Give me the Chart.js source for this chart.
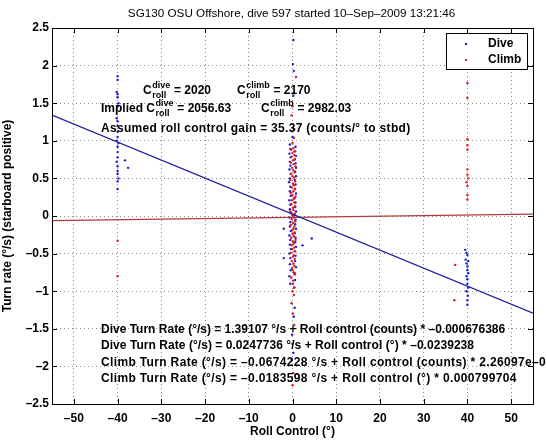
<!DOCTYPE html>
<html>
<head>
<meta charset="utf-8">
<script src="https://cdn.jsdelivr.net/npm/chart.js@4.4.1/dist/chart.umd.min.js"></script>
<style>
  html, body { margin: 0; padding: 0; background: #fff; }
  #wrap { width: 546px; height: 442px; }
</style>
</head>
<body>
<div id="wrap"><canvas id="turnChart" width="546" height="442"></canvas></div>
<script>
// values
const fitX = [-55, 55];
const diveFit = [1.341, -1.291];
const climbFit = [-0.062, 0.026];

const xTicks = [-50, -40, -30, -20, -10, 0, 10, 20, 30, 40, 50];
const yTicks = [-2.5, -2, -1.5, -1, -0.5, 0, 0.5, 1, 1.5, 2, 2.5];

const diveRoll = [
  -40, -40, -40.2, -40, -40, -39.8, -40, -40.2, -40, -40, -40, -40.2, -39.8, -40, -40, -40.2, -40, -40, -40, -39.8, -40, -40, -38.3, -37.6, -40, -40,
  39.5, 39.8, 40, 40.2, 39.8, 40, 40, 40.2, 39.8, 40, 40, 40.2, 39.8, 40, 40, 39.6, 40.1,
  0.2, 0.1, 0.3, 0.2, 0.4, 0.0,
  -0.6, 0.7, -0.5, 0.6, -0.7, 0.8, -0.4, 0.5, -0.6, 0.7, -0.5, 0.8, -0.7, 0.6, -0.4, 0.8,
  -0.6, 0.5, -0.8, 0.7, -0.5, 0.6, -0.6, 0.8, -0.4, 0.5, -0.7, 0.7, -0.5, 0.6, -0.6, 0.8,
  -0.4, 0.5, -0.7, 0.7, -0.5, 0.6, -0.6, 0.8, -0.4, 0.5, -0.7, 0.7, -0.5, 0.6, -0.6, 0.8,
  -0.4, 0.5, -0.7, 0.7, -0.5, 0.6, -0.6, 0.8, -0.4, 0.5, -0.7, 0.6, -0.5, 0.4,
  0.5, 0.3, -0.1, 0.2, -0.2,
  -2.0, 4.4, 2.3, -2.0
];
const diveTurn = [
  1.86, 1.81, 1.65, 1.62, 1.58, 1.50, 1.46, 1.30, 1.26, 1.20, 1.05, 1.00, 0.97, 0.92, 0.78, 0.72, 0.66, 0.60, 0.56, 0.50, 0.46, 0.36, 0.74, 0.64, 1.12, 0.85,
  -0.45, -0.49, -0.52, -0.60, -0.63, -0.67, -0.72, -0.76, -0.80, -0.84, -0.90, -0.95, -1.00, -1.12, -1.18, -0.58, -1.06,
  2.34, 2.02, 1.93, 1.60, 1.15, 1.05,
  0.95, 0.92, 0.89, 0.86, 0.83, 0.80, 0.78, 0.75, 0.72, 0.70, 0.67, 0.64, 0.62, 0.59, 0.56, 0.53,
  0.50, 0.48, 0.45, 0.42, 0.39, 0.36, 0.33, 0.30, 0.27, 0.24, 0.21, 0.18, 0.15, 0.12, 0.09, 0.06,
  0.04, 0.01, -0.02, -0.05, -0.08, -0.11, -0.14, -0.17, -0.20, -0.23, -0.26, -0.29, -0.32, -0.35, -0.38, -0.41,
  -0.44, -0.47, -0.50, -0.53, -0.56, -0.60, -0.64, -0.68, -0.72, -0.76, -0.80, -0.85, -0.90, -0.95,
  -1.22, -1.34, -1.58, -1.82, -1.91,
  -0.17, -0.30, -0.39, -0.56
];

const climbRoll = [
  40, 40, 40, 40, 40, 40.2, 39.8, 40, 40, 40, 37.2, 37.0, 40, 40,
  -40, -40,
  0.8, 0.2, 0.0, -0.2, 0.1, 0.3, 0.0,
  0.2, -0.3, 0.5, 0.0, 0.4, -0.2, 0.6, 0.1, -0.4, 0.3, 0.7, -0.1, 0.2, 0.5, -0.3, 0.0, 0.4, -0.5, 0.6, 0.1, 0.3, -0.2, 0.5, 0.2, -0.4, 0.0, 0.7,
  0.3, -0.1, 0.4, -0.3, 0.6, 0.1, 0.2, -0.5, 0.5, 0.0, 0.3, -0.2, 0.6, 0.1, -0.4, 0.4, 0.2, -0.1, 0.5, 0.0, 0.3, -0.3, 0.7, 0.1, 0.2, -0.2,
  0.4, 0.0, 0.6, -0.4, 0.3, 0.1, 0.5, -0.2, 0.2, 0.4, -0.1, 0.0, 0.3, 0.5, -0.3, 0.2, 0.1, 0.4,
  0.0, 0.3, -0.2, 0.1, 0.4, -0.1, 0.2, 0.0, 0.3
];
const climbTurn = [
  1.77, 1.57, 0.94, 0.88, 0.55, 0.50, 0.45, 0.40, 0.28, 0.22, -0.65, -1.12, 1.02, 0.62,
  -0.33, -0.80,
  1.85, 1.63, 1.46, 1.34, 1.17, 1.04, 0.97,
  0.90, 0.88, 0.86, 0.84, 0.81, 0.79, 0.76, 0.74, 0.71, 0.69, 0.66, 0.64, 0.61, 0.58, 0.56, 0.53, 0.51, 0.48, 0.46, 0.43, 0.41, 0.38, 0.36, 0.33, 0.31, 0.28,
  0.26, 0.23, 0.21, 0.18, 0.16, 0.13, 0.11, 0.08, 0.06, 0.03, 0.01, -0.02, -0.04, -0.07, -0.09, -0.12, -0.14, -0.17, -0.19, -0.22, -0.24, -0.27, -0.29, -0.32, -0.34, -0.37,
  -0.39, -0.42, -0.44, -0.47, -0.49, -0.52, -0.54, -0.57, -0.60, -0.63, -0.66, -0.69, -0.72, -0.75, -0.78, -0.82, -0.86, -0.90,
  -0.95, -1.00, -1.05, -1.16, -1.30, -1.45, -1.70, -2.09, -2.25
];

const titleText = 'SG130 OSU Offshore, dive 597 started 10\u2013Sep\u20132009 13:21:46';
const fitLines = [
  'Dive Turn Rate (\u00b0/s) = 1.39107 \u00b0/s + Roll control (counts) * \u20130.000676386',
  'Dive Turn Rate (\u00b0/s) = 0.0247736 \u00b0/s + Roll control (\u00b0) * \u20130.0239238',
  'Climb Turn Rate (\u00b0/s) = \u20130.0674228 \u00b0/s + Roll control (counts) * 2.26097e\u201305',
  'Climb Turn Rate (\u00b0/s) = \u20130.0183598 \u00b0/s + Roll control (\u00b0) * 0.000799704'
];
// extra spacing so the climb lines run as long as in the figure
const fitSpacing = ['0px', '0.05px', '0.35px', '0.35px'];

const FONT = '"Liberation Sans", Arial, sans-serif';
const BLUE = '#1a1ad8';
const RED = '#e01818';

function pts(xs, ys) {
  return xs.map((x, i) => ({ x: x, y: ys[i] }));
}

function minus(v) {
  return String(v).replace('-', '\u2013');
}

// C with stacked superscript / subscript
function drawC(ctx, x, base, sup, rest) {
  ctx.font = 'bold 12px ' + FONT;
  ctx.fillText('C', x, base);
  const w = ctx.measureText('C').width;
  ctx.font = 'bold 9px ' + FONT;
  ctx.fillText(sup, x + w + 0.5, base - 6);
  ctx.fillText('roll', x + w + 0.5, base + 4);
  const ws = Math.max(ctx.measureText(sup).width, ctx.measureText('roll').width);
  ctx.font = 'bold 12px ' + FONT;
  ctx.fillText(rest, x + w + ws + 1, base);
}

const decor = {
  id: 'decor',
  afterDraw(chart) {
    const ctx = chart.ctx;
    const a = chart.chartArea;
    const xs = chart.scales.x, ys = chart.scales.y;
    ctx.save();
    // box and inward ticks
    ctx.strokeStyle = '#000';
    ctx.lineWidth = 1;
    ctx.strokeRect(a.left + 0.5, a.top + 0.5, a.right - a.left, a.bottom - a.top);
    ctx.beginPath();
    xs.ticks.forEach(t => {
      const px = Math.round(xs.getPixelForValue(t.value)) + 0.5;
      ctx.moveTo(px, a.bottom); ctx.lineTo(px, a.bottom - 5);
      ctx.moveTo(px, a.top); ctx.lineTo(px, a.top + 5);
    });
    ys.ticks.forEach(t => {
      const py = Math.round(ys.getPixelForValue(t.value)) + 0.5;
      ctx.moveTo(a.left, py); ctx.lineTo(a.left + 5, py);
      ctx.moveTo(a.right, py); ctx.lineTo(a.right - 5, py);
    });
    ctx.stroke();

    // title
    ctx.fillStyle = '#000';
    ctx.textAlign = 'center';
    ctx.textBaseline = 'middle';
    ctx.font = '11.7px ' + FONT;
    ctx.fillText(titleText, (a.left + a.right) / 2 - 1, 14);

    // legend
    const lx = 446, ly = 33, lw = 81, lh = 36;
    ctx.fillStyle = '#fff';
    ctx.fillRect(lx, ly, lw, lh);
    ctx.strokeStyle = '#000';
    ctx.strokeRect(lx + 0.5, ly + 0.5, lw, lh);
    ctx.font = 'bold 12px ' + FONT;
    ctx.textAlign = 'left';
    ctx.fillStyle = '#000';
    ctx.fillText('Dive', 488, ly + 11);
    ctx.fillText('Climb', 488, ly + 27);
    ctx.fillStyle = BLUE;
    ctx.fillRect(465, ly + 10, 2, 2);
    ctx.fillStyle = RED;
    ctx.fillRect(465, ly + 26, 2, 2);

    // annotation text
    ctx.fillStyle = '#000';
    ctx.textAlign = 'left';
    ctx.textBaseline = 'alphabetic';
    drawC(ctx, 143, 94, 'dive', ' = 2020');
    drawC(ctx, 237, 94, 'climb', ' = 2170');
    ctx.font = 'bold 12px ' + FONT;
    ctx.fillText('Implied', 101, 112);
    drawC(ctx, 101 + ctx.measureText('Implied ').width, 112, 'dive', ' = 2056.63');
    drawC(ctx, 261, 112, 'climb', ' = 2982.03');
    ctx.font = 'bold 12px ' + FONT;
    ctx.letterSpacing = '0.3px';
    ctx.fillText('Assumed roll control gain = 35.37 (counts/\u00b0 to stbd)', 101, 132);
    fitLines.forEach((s, i) => {
      ctx.letterSpacing = fitSpacing[i];
      ctx.fillText(s, 101, 333 + i * 16.3);
    });
    ctx.letterSpacing = '0px';
    ctx.restore();
  }
};

new Chart(document.getElementById('turnChart'), {
  type: 'scatter',
  data: {
    datasets: [
      {
        label: 'Dive fit', type: 'line', data: pts(fitX, diveFit),
        borderColor: '#1c1c9c', borderWidth: 1.2, pointRadius: 0, fill: false, order: 0
      },
      {
        label: 'Climb fit', type: 'line', data: pts(fitX, climbFit),
        borderColor: '#b23a3a', borderWidth: 1.2, pointRadius: 0, fill: false, order: 0
      },
      {
        label: 'Climb', data: pts(climbRoll, climbTurn),
        backgroundColor: RED, borderWidth: 0, pointRadius: 1.2, order: 1
      },
      {
        label: 'Dive', data: pts(diveRoll, diveTurn),
        backgroundColor: BLUE, borderWidth: 0, pointRadius: 1.2, order: 2
      }
    ]
  },
  options: {
    responsive: false,
    animation: false,
    layout: { padding: { top: 28, right: 13, left: 0, bottom: 0 } },
    plugins: {
      legend: { display: false },
      tooltip: { enabled: false }
    },
    scales: {
      x: {
        type: 'linear', min: -55, max: 55,
        afterFit(s) { s.height = 38; },
        afterBuildTicks(s) { s.ticks = xTicks.map(v => ({ value: v })); },
        ticks: {
          padding: 7, maxRotation: 0, autoSkip: false,
          color: '#000', font: { family: FONT, size: 12, weight: 'bold' },
          callback: v => minus(v)
        },
        grid: { color: 'rgba(0,0,0,0.45)', drawTicks: false, lineWidth: 1 },
        border: { display: false, dash: [1, 3] },
        title: {
          display: true, text: 'Roll Control (\u00b0)', color: '#000',
          font: { family: FONT, size: 12, weight: 'bold' }, padding: { top: 0, bottom: 3 }
        }
      },
      y: {
        type: 'linear', min: -2.5, max: 2.5,
        afterFit(s) { s.width = 52; },
        afterBuildTicks(s) { s.ticks = yTicks.map(v => ({ value: v })); },
        ticks: {
          padding: 3, autoSkip: false,
          color: '#000', font: { family: FONT, size: 12, weight: 'bold' },
          callback: v => minus(v)
        },
        grid: { color: 'rgba(0,0,0,0.45)', drawTicks: false, lineWidth: 1 },
        border: { display: false, dash: [1, 3] },
        title: {
          display: true, text: 'Turn rate (\u00b0/s) (starboard positive)', color: '#000',
          font: { family: FONT, size: 12, weight: 'bold' }, padding: { top: 0, bottom: 0 }
        }
      }
    }
  },
  plugins: [decor]
});
</script>
</body>
</html>
